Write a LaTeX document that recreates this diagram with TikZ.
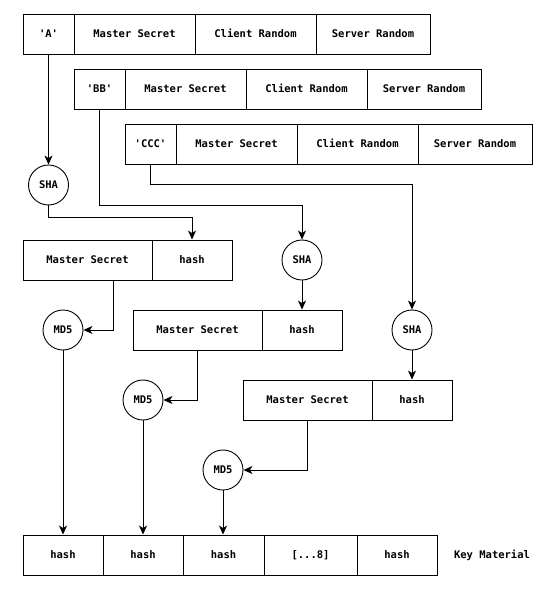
\documentclass[tikz,border=0pt]{standalone}
\usepackage{fontspec}
\setmonofont{DejaVu Sans Mono}
\usetikzlibrary{arrows.meta}
\tikzset{
  cell/.style={draw, minimum height=40pt, inner sep=0pt, line width=0.9pt,
    text height=8pt, text depth=2pt,
    font=\ttfamily\bfseries\fontsize{10.5}{12}\selectfont},
  hashfn/.style={draw, circle, minimum size=40pt, inner sep=0pt, line width=0.9pt,
    font=\ttfamily\bfseries\fontsize{10.5}{12}\selectfont},
  arr/.style={-{Stealth[length=9pt,width=8pt,inset=2.5pt]}, line width=0.9pt},
}
\begin{document}
\begin{tikzpicture}[x=1pt,y=-1pt]
\useasboundingbox (0,0) rectangle (555,613);
% input rows
\foreach \lbl [count=\i from 0] in {'A','BB','CCC'} {
  \node[cell, minimum width=51pt] (lbl\i) at ({48.5+51*\i},{34+55*\i}) {\lbl};
  \node[cell, minimum width=121pt] (ms\i) at ({134.5+51*\i},{34+55*\i}) {Master Secret};
  \node[cell, minimum width=121pt] (cr\i) at ({255.5+51*\i},{34+55*\i}) {Client Random};
  \node[cell, minimum width=114pt] (sr\i) at ({373+51*\i},{34+55*\i}) {Server Random};
}
% sha / md5 stages
\foreach \sx/\hy [count=\i from 0] in {48.5/185,302/260,412/330} {
  \node[hashfn] (sha\i) at (\sx,\hy) {SHA};
  \node[cell, minimum width=129pt] (sec\i) at ({87.5+110*\i},{260+70*\i}) {Master Secret};
  \node[cell, minimum width=80pt] (h\i) at ({192+110*\i},{260+70*\i}) {hash};
  \node[hashfn] (md\i) at ({63+80*\i},{330+70*\i}) {MD5};
}
% key material
\node[cell, minimum width=80pt] (k0) at (63,555) {hash};
\node[cell, minimum width=80pt] (k1) at (143,555) {hash};
\node[cell, minimum width=81pt] (k2) at (223.5,555) {hash};
\node[cell, minimum width=93pt] (k3) at (310.5,555) {[...8]};
\node[cell, minimum width=80pt] (k4) at (397,555) {hash};
\node[cell, draw=none] (key) at (492,555) {Key Material};

\draw[arr] (lbl0.south) -- (sha0.north);
\draw[arr] (lbl1.south) -- ++(0,96) -| (sha1.north);
\draw[arr] (lbl2.south) -- ++(0,20) -| (sha2.north);
\draw[arr] (sha0.south) -- ++(0,12) -| (h0.north);
\draw[arr] (sha1.south) -- (h1.north);
\draw[arr] (sha2.south) -- (h2.north);
\draw[arr] ([xshift=25.5pt]sec0.south) |- (md0.east);
\draw[arr] (sec1.south) |- (md1.east);
\draw[arr] (sec2.south) |- (md2.east);
\draw[arr] (md0.south) -- (md0.south |- k0.north);
\draw[arr] (md1.south) -- (md1.south |- k1.north);
\draw[arr] (md2.south) -- (md2.south |- k2.north);
\end{tikzpicture}
\end{document}
